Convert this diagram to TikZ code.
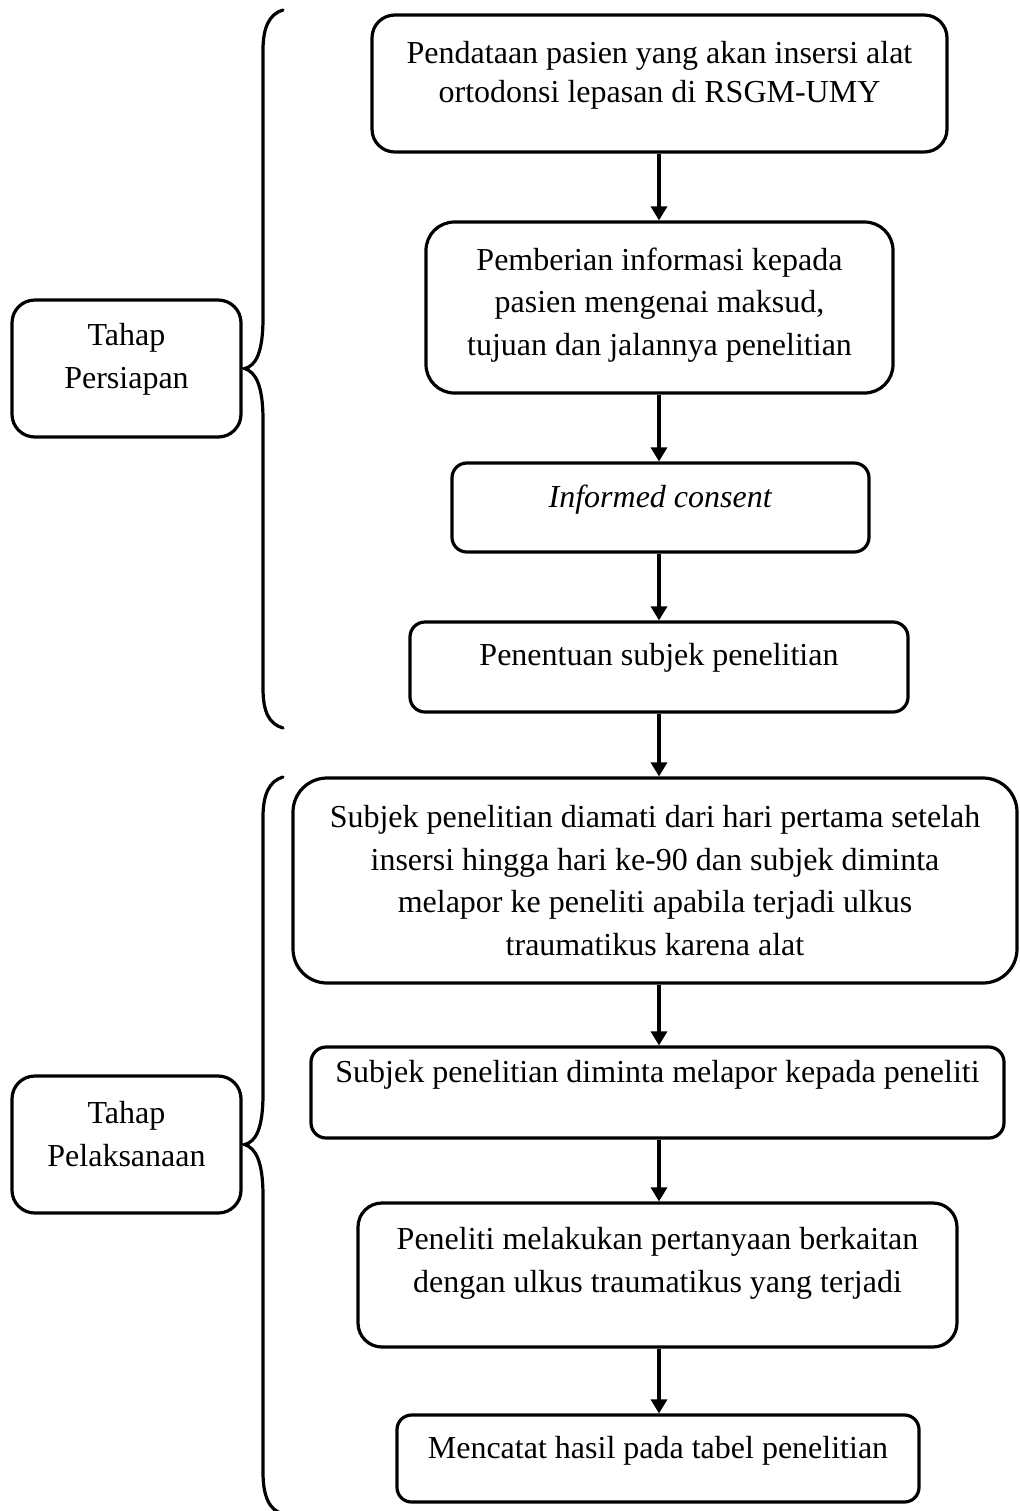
\documentclass[tikz,border=0pt]{standalone}
\usepackage{fontspec}
\setmainfont{Liberation Serif}
\usetikzlibrary{arrows.meta}
\begin{document}
\begin{tikzpicture}[x=0.5pt,y=-0.5pt,
  box/.style n args={3}{draw, line width=1.6pt, inner sep=0pt,
    minimum width=#1, minimum height=#2, rounded corners=#3},
  txt/.style={align=center, inner sep=0pt, anchor=base,
    font={\fontsize{16pt}{21.25pt}\selectfont}},
  arr/.style={line width=1.6pt, -{Triangle[length=7pt,width=8pt]}},
  brace/.style={line width=1.6pt, line cap=round}]
\useasboundingbox (0,0) rectangle (1019,1511);
\coordinate (col) at (659,0);
% right column boxes
\node[box={287.5pt}{68.5pt}{11.4pt}] (b1) at (659.5,83.5) {};
\node[box={233.5pt}{85.5pt}{14.2pt}] (b2) at (659.5,307.5) {};
\node[box={208.5pt}{44.5pt}{7.4pt}] (b3) at (660.5,507.5) {};
\node[box={249pt}{45pt}{7.5pt}] (b4) at (659,667) {};
\node[box={362pt}{102.5pt}{17pt}] (b5) at (655,880.5) {};
\node[box={346.5pt}{45.5pt}{7.6pt}] (b6) at (657.5,1092.5) {};
\node[box={299.5pt}{72pt}{12pt}] (b7) at (657.5,1275) {};
\node[box={261pt}{43.5pt}{7.3pt}] (b8) at (658,1458.5) {};
% left boxes
\node[box={114.5pt}{68.5pt}{11.4pt}] (p1) at (126.5,368.5) {};
\node[box={114.5pt}{68.5pt}{11.4pt}] (p2) at (126.5,1144.5) {};
% texts (anchor base = baseline of the last line)
\node[txt, font={\fontsize{16pt}{19.5pt}\selectfont}] (t1) at (659.5,102) {Pendataan pasien yang akan insersi alat\\ortodonsi lepasan di RSGM-UMY};
\node[txt] (t2) at (659.5,355) {Pemberian informasi kepada\\pasien mengenai maksud,\\tujuan dan jalannya penelitian};
\node[txt] (t3) at (660.5,507) {\textit{Informed consent}};
\node[txt] (t4) at (659,665) {Penentuan subjek penelitian};
\node[txt] (t5) at (655,955) {Subjek penelitian diamati dari hari pertama setelah\\insersi hingga hari ke-90 dan subjek diminta\\melapor ke peneliti apabila terjadi ulkus\\traumatikus karena alat};
\node[txt] (t6) at (657.5,1082) {Subjek penelitian diminta melapor kepada peneliti};
\node[txt] (t7) at (657.5,1292) {Peneliti melakukan pertanyaan berkaitan\\dengan ulkus traumatikus yang terjadi};
\node[txt] (t8) at (658,1458) {Mencatat hasil pada tabel penelitian};
\node[txt] (tp1) at (126.5,388) {Tahap\\Persiapan};
\node[txt] (tp2) at (126.5,1166) {Tahap\\Pelaksanaan};
% arrows
\draw[arr] (b1.south -| col) -- (b2.north -| col);
\draw[arr] (b2.south -| col) -- (b3.north -| col);
\draw[arr] (b3.south -| col) -- (b4.north -| col);
\draw[arr] (b4.south -| col) -- (b5.north -| col);
\draw[arr] (b5.south -| col) -- (b6.north -| col);
\draw[arr] (b6.south -| col) -- (b7.north -| col);
\draw[arr] (b7.south -| col) -- (b8.north -| col);
% braces
\draw[brace] (283,10) .. controls (269,14) and (263,28) .. (263,50) -- (263,318)
  .. controls (263,352) and (256,366) .. ([xshift=1pt]p1.east)
  .. controls (256,372) and (263,386) .. (263,420) -- (263,688)
  .. controls (263,712) and (269,724) .. (283,728);
\draw[brace] (283,777) .. controls (269,781) and (263,795) .. (263,817) -- (263,1094)
  .. controls (263,1128) and (256,1142) .. ([xshift=1pt]p2.east)
  .. controls (256,1148) and (263,1162) .. (263,1196) -- (263,1472)
  .. controls (263,1496) and (269,1510) .. (283,1514);
\end{tikzpicture}
\end{document}
